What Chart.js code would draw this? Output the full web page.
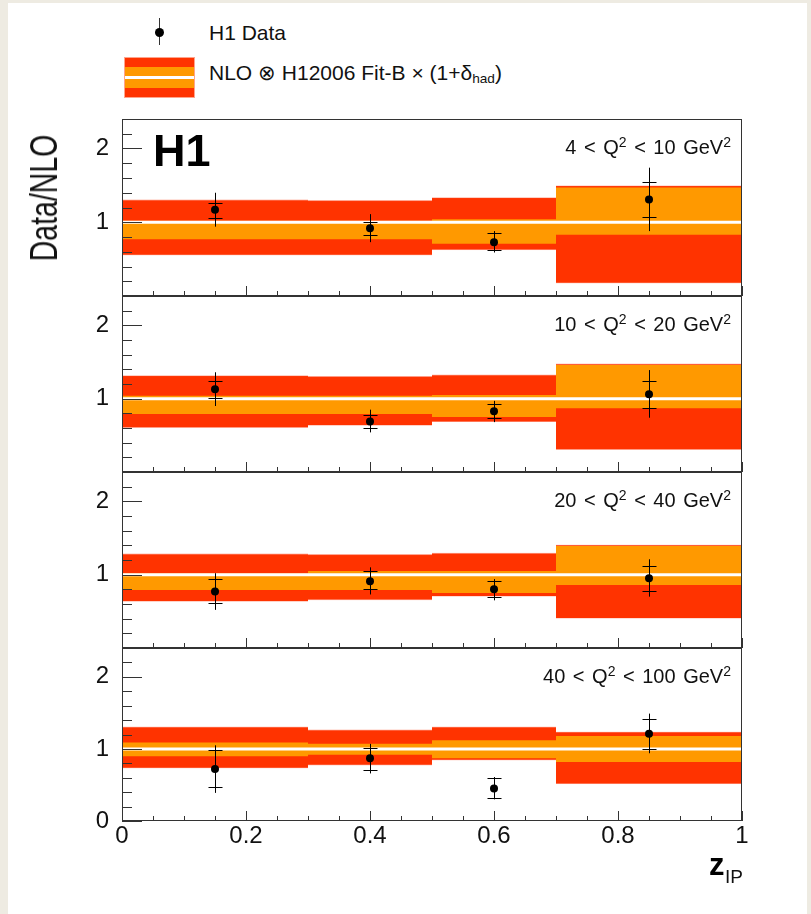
<!DOCTYPE html>
<html>
<head>
<meta charset="utf-8">
<script src="https://cdn.jsdelivr.net/npm/chart.js@4.4.1/dist/chart.umd.min.js"></script>
<style>
  html, body { margin: 0; padding: 0; }
  body {
    width: 811px; height: 914px; position: relative; overflow: hidden;
    background: #eeebe2;
    font-family: 'Liberation Sans', Arial, Helvetica, sans-serif; color: #111;
  }
  #page { position: absolute; left: 8px; top: 3px; width: 799px; height: 911px; background: #fff; }
  canvas { position: absolute; left: 0; }
  .txt { position: absolute; white-space: nowrap; line-height: 1; }
  .txt sup { font-size: 0.7em; line-height: 0; position: relative; top: -0.5em; vertical-align: baseline; }
  .txt sub { font-size: 0.65em; line-height: 0; position: relative; top: 0.25em; vertical-align: baseline; }
  #leg-line { position: absolute; left: 159px; top: 18px; width: 1px; height: 27px; background: #333; }
  #leg-dot  { position: absolute; left: 155px; top: 28px; width: 9px; height: 9px; border-radius: 50%; background: #000; }
  #leg-band {
    position: absolute; left: 124px; top: 57px; width: 71px; height: 41px; box-sizing: border-box;
    border: 1px solid #ffa48c;
    background: linear-gradient(to bottom,
      #ff3300 0, #ff3300 9px, #ff9900 9px, #ff9900 18px, #fff 18px, #fff 21px,
      #ff9900 21px, #ff9900 30px, #ff3300 30px, #ff3300 41px);
  }
</style>
</head>
<body>
<div id="page"></div>
<div id="leg-line"></div><div id="leg-dot"></div>
<div id="leg-band"></div>
<script>
// -----------------------------------------------------------------------------
// H1 dijets in DIS: Data / NLO vs z_IP, four Q^2 bins
// -----------------------------------------------------------------------------

const binEdges = [0, 0.3, 0.5, 0.7, 1.0];
const zPom     = [0.15, 0.4, 0.6, 0.85];
const q2Lo     = [4, 10, 20, 40];
const q2Hi     = [10, 20, 40, 100];

// NLO band (one row per Q^2 panel, one value per z_IP bin)
const redLo    = [[0.56, 0.56, 0.63, 0.18], [0.61, 0.64, 0.69, 0.31], [0.64, 0.66, 0.71, 0.41], [0.74, 0.78, 0.85, 0.52]];
const redHi    = [[1.30, 1.29, 1.33, 1.49], [1.31, 1.30, 1.32, 1.47], [1.28, 1.27, 1.29, 1.40], [1.30, 1.26, 1.30, 1.23]];
const orangeLo = [[0.77, 0.77, 0.71, 0.83], [0.79, 0.79, 0.75, 0.87], [0.79, 0.79, 0.75, 0.86], [0.90, 0.92, 0.87, 0.82]];
const orangeHi = [[1.02, 1.02, 1.04, 1.47], [1.04, 1.04, 1.05, 1.46], [1.02, 1.05, 1.05, 1.39], [1.09, 1.07, 1.12, 1.18]];
const nloCentre = 1;

// H1 data / NLO with inner (stat) and outer (total) error bar ends
const ratio    = [[1.17, 0.92, 0.73, 1.31], [1.13, 0.69, 0.83, 1.06], [0.77, 0.91, 0.80, 0.95], [0.72, 0.87, 0.45, 1.21]];
const statLo   = [[1.06, 0.83, 0.62, 1.07], [1.01, 0.60, 0.73, 0.87], [0.61, 0.81, 0.69, 0.78], [0.47, 0.71, 0.32, 1.00]];
const statHi   = [[1.26, 1.01, 0.85, 1.55], [1.24, 0.78, 0.93, 1.24], [0.94, 1.05, 0.91, 1.12], [0.98, 1.01, 0.60, 1.42]];
const totLo    = [[0.94, 0.73, 0.59, 0.88], [0.90, 0.54, 0.68, 0.74], [0.52, 0.73, 0.65, 0.70], [0.39, 0.66, 0.30, 0.94]];
const totHi    = [[1.40, 1.11, 0.88, 1.74], [1.36, 0.85, 0.97, 1.39], [1.02, 1.10, 0.94, 1.21], [1.05, 1.07, 0.61, 1.49]];

// axis ticks
const yRange      = [0, 2.4];
const yLabelTicks = [[1, 2], [1, 2], [1, 2], [0, 1, 2]];
const yMajor      = [0, 1, 2];
const yMinor      = [0.2, 0.4, 0.6, 0.8, 1.2, 1.4, 1.6, 1.8, 2.2];
const xMajor      = [0, 0.2, 0.4, 0.6, 0.8, 1];
const xMinor      = [0.05, 0.1, 0.15, 0.25, 0.3, 0.35, 0.45, 0.5, 0.55, 0.65, 0.7, 0.75, 0.85, 0.9, 0.95];

const C = {
  red:     '#ff3300',
  redEdge: 'rgba(255,80,40,0.45)',
  orange:  '#ff9900',
  ink:     '#111111',
  frame:   '#333333',
};

Chart.defaults.font.family = "'Liberation Sans', Arial, Helvetica, sans-serif";
Chart.defaults.color = C.ink;

// page geometry
const W = 811;
const PLOT_L = 122, PLOT_R = 742;
const PANEL_TOP = [119, 296, 472, 648];
const PANEL_H   = [177, 176, 176, 173];
const PAD = 20, X_AXIS_H = 38;

// one filled rectangle per z_IP bin: top line filled down to the bottom line
function band(lo, hi, color, edge, order){
  const out = [];
  lo.forEach((_, i) => {
    const x0 = binEdges[i], x1 = binEdges[i + 1];
    out.push({ type: 'line', data: [{ x: x0, y: hi[i] }, { x: x1, y: hi[i] }], fill: '+1',
               backgroundColor: color, borderColor: edge, borderWidth: edge ? 1 : 0, pointRadius: 0, order });
    out.push({ type: 'line', data: [{ x: x0, y: lo[i] }, { x: x1, y: lo[i] }], fill: false,
               borderColor: edge, borderWidth: edge ? 1 : 0, pointRadius: 0, order });
  });
  return out;
}

function errorBars(p){
  return {
    id: 'errorBars',
    afterDatasetsDraw(chart){
      const { ctx, scales: { x, y } } = chart;
      ctx.save();
      ctx.strokeStyle = '#000';
      ctx.lineWidth = 1;
      zPom.forEach((z, i) => {
        const px = Math.round(x.getPixelForValue(z)) + 0.5;
        ctx.beginPath();
        ctx.moveTo(px, y.getPixelForValue(totLo[p][i]));
        ctx.lineTo(px, y.getPixelForValue(totHi[p][i]));
        [statLo[p][i], statHi[p][i]].forEach(v => {
          const py = Math.round(y.getPixelForValue(v)) + 0.5;
          ctx.moveTo(px - 7, py);
          ctx.lineTo(px + 7, py);
        });
        ctx.stroke();
      });
      ctx.restore();
    }
  };
}

// ROOT-style frame with ticks drawn inwards
const frameTicks = {
  id: 'frameTicks',
  afterDatasetsDraw(chart){
    const { ctx, chartArea: a, scales: { x, y } } = chart;
    ctx.save();
    ctx.strokeStyle = C.frame;
    ctx.lineWidth = 1;
    ctx.beginPath();
    yMajor.forEach(v => { const py = Math.round(y.getPixelForValue(v)) + 0.5; ctx.moveTo(a.left, py); ctx.lineTo(a.left + 20, py); });
    yMinor.forEach(v => { const py = Math.round(y.getPixelForValue(v)) + 0.5; ctx.moveTo(a.left, py); ctx.lineTo(a.left + 10, py); });
    xMajor.forEach(v => { const px = Math.round(x.getPixelForValue(v)) + 0.5; ctx.moveTo(px, a.bottom); ctx.lineTo(px, a.bottom - 10); });
    xMinor.forEach(v => { const px = Math.round(x.getPixelForValue(v)) + 0.5; ctx.moveTo(px, a.bottom); ctx.lineTo(px, a.bottom - 5); });
    ctx.stroke();
    ctx.strokeRect(a.left + 0.5, a.top + 0.5, a.width - 1, a.height - 1);
    ctx.restore();
  }
};

function panel(p){
  const last = p === PANEL_TOP.length - 1;
  const cv = document.createElement('canvas');
  const h = PAD + PANEL_H[p] + (last ? X_AXIS_H + 10 : PAD);
  cv.width = W; cv.height = h;
  cv.style.top = (PANEL_TOP[p] - PAD) + 'px';
  document.body.appendChild(cv);

  new Chart(cv, {
    type: 'line',
    data: {
      datasets: [
        ...band(redLo[p], redHi[p], C.red, C.redEdge, 3),
        ...band(orangeLo[p], orangeHi[p], C.orange, null, 2),
        { type: 'line', data: [{ x: binEdges[0], y: nloCentre }, { x: binEdges[binEdges.length - 1], y: nloCentre }],
          borderColor: '#fff', borderWidth: 3, pointRadius: 0, fill: false, order: 1 },
        { type: 'scatter', data: zPom.map((z, i) => ({ x: z, y: ratio[p][i] })),
          pointRadius: 4, pointBackgroundColor: '#000', pointBorderWidth: 0, order: 0 },
      ]
    },
    options: {
      responsive: false,
      animation: false,
      events: [],
      layout: { padding: { left: PLOT_L - 30, right: W - PLOT_R, top: PAD, bottom: last ? 10 : PAD } },
      plugins: { legend: { display: false }, tooltip: { enabled: false } },
      scales: {
        x: {
          type: 'linear', min: binEdges[0], max: binEdges[binEdges.length - 1],
          display: last,
          grid: { display: false }, border: { display: false },
          afterBuildTicks: s => { s.ticks = xMajor.map(value => ({ value })); },
          afterFit: s => { s.height = last ? X_AXIS_H : 0; },
          ticks: { padding: -7, font: { size: 24 }, color: C.ink, maxRotation: 0, autoSkip: false,
                   callback: v => String(v) },
        },
        y: {
          min: yRange[0], max: yRange[1],
          grid: { display: false }, border: { display: false },
          afterBuildTicks: s => { s.ticks = yLabelTicks[p].map(value => ({ value })); },
          afterFit: s => { s.width = 30; },
          ticks: { padding: 5, font: { size: 24 }, color: C.ink, autoSkip: false, callback: v => String(v) },
        },
      },
    },
    plugins: [errorBars(p), frameTicks],
  });
}

PANEL_TOP.forEach((_, p) => panel(p));

// -----------------------------------------------------------------------------
// Text
// -----------------------------------------------------------------------------
function text(html, style){
  const el = document.createElement('div');
  el.className = 'txt';
  el.innerHTML = html;
  Object.assign(el.style, style);
  document.body.appendChild(el);
  return el;
}

// legend
text('H1 Data', { left: '209px', top: '22px', fontSize: '21px' });
text('NLO &otimes; H12006 Fit-B &times; (1+&delta;<sub>had</sub>)', { left: '209px', top: '62px', fontSize: '21px' });

// H1 logo
text('H1', { left: '153px', top: '128px', fontSize: '45px', fontWeight: 'bold', color: '#000' });

// Q^2 bin labels
PANEL_TOP.forEach((t, p) => {
  text(`${q2Lo[p]} &lt; Q<sup>2</sup> &lt; ${q2Hi[p]} GeV<sup>2</sup>`,
       { right: (W - 731) + 'px', top: (t + 28 - 10) + 'px', fontSize: '20px', wordSpacing: '2px' });
});

// axis titles
text('Data/NLO', { left: '44px', top: '198px', fontSize: '38px',
                   transform: 'translate(-50%, -50%) rotate(-90deg) scaleX(0.75)' });
text('z', { left: '709px', top: '849px', fontSize: '31px', fontWeight: 'bold', color: '#000' });
text('IP', { left: '725px', top: '867px', fontSize: '19px' });
</script>
</body>
</html>
